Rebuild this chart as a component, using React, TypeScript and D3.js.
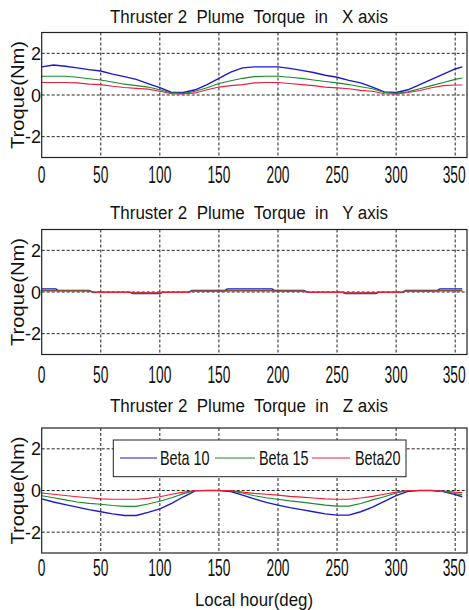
import React from "react";
import * as d3 from "d3";

// ---------- data ----------
const xTicks = [0, 50, 100, 150, 200, 250, 300, 350];
const yTicks = [-2, 0, 2];
const seriesNames = ["Beta 10", "Beta 15", "Beta20"];

// X axis torque
const xHour = [0,10,20,30,40,50,60,70,80,90,100,110,120,130,140,150,160,170,180,190,200,210,220,230,240,250,260,270,280,290,300,310,320,330,340,350,356];
const xBeta10 = [1.35,1.44,1.38,1.30,1.22,1.15,1.00,0.88,0.75,0.55,0.35,0.12,0.12,0.25,0.50,0.80,1.10,1.30,1.35,1.35,1.35,1.28,1.18,1.08,0.95,0.85,0.70,0.58,0.38,0.15,0.12,0.25,0.50,0.75,1.00,1.25,1.35];
const xBeta15 = [0.90,0.90,0.90,0.85,0.78,0.72,0.62,0.52,0.45,0.38,0.25,0.10,0.08,0.18,0.35,0.55,0.68,0.80,0.88,0.90,0.90,0.85,0.80,0.72,0.65,0.58,0.50,0.40,0.30,0.12,0.08,0.15,0.30,0.45,0.60,0.75,0.82];
const xBeta20 = [0.60,0.60,0.60,0.58,0.52,0.50,0.42,0.36,0.32,0.28,0.18,0.06,0.05,0.10,0.25,0.38,0.45,0.50,0.58,0.60,0.60,0.55,0.50,0.45,0.38,0.34,0.30,0.22,0.18,0.06,0.05,0.12,0.22,0.35,0.45,0.48,0.48];

// Y axis torque
const yHour = [0,12,14,40,44,75,77,100,102,124,127,155,157,195,197,222,225,255,257,283,285,305,308,335,337,356];
const yBeta10 = [0.15,0.15,0.07,0.07,-0.02,-0.02,-0.07,-0.07,-0.02,-0.02,0.07,0.07,0.15,0.15,0.07,0.07,-0.02,-0.02,-0.07,-0.07,-0.02,-0.02,0.07,0.07,0.15,0.15];
const yBeta15 = [0.08,0.08,0.07,0.07,-0.02,-0.02,-0.05,-0.05,-0.02,-0.02,0.06,0.06,0.08,0.08,0.06,0.06,-0.02,-0.02,-0.05,-0.05,-0.02,-0.02,0.06,0.06,0.08,0.08];
const yBeta20 = [0.05,0.05,0.05,0.05,-0.02,-0.02,-0.04,-0.04,-0.02,-0.02,0.04,0.04,0.05,0.05,0.04,0.04,-0.02,-0.02,-0.04,-0.04,-0.02,-0.02,0.04,0.04,0.05,0.05];

// Z axis torque
const zHour = xHour;
const zBeta10 = [-0.40,-0.55,-0.68,-0.80,-0.92,-1.02,-1.12,-1.20,-1.20,-1.05,-0.88,-0.62,-0.30,-0.02,0,0,-0.05,-0.22,-0.40,-0.57,-0.70,-0.82,-0.92,-1.02,-1.12,-1.18,-1.18,-1.02,-0.80,-0.52,-0.25,-0.04,0,0,-0.05,-0.20,-0.30];
const zBeta15 = [-0.25,-0.35,-0.45,-0.55,-0.62,-0.66,-0.72,-0.76,-0.76,-0.65,-0.52,-0.35,-0.15,0,0,0,-0.02,-0.12,-0.25,-0.35,-0.42,-0.50,-0.56,-0.63,-0.70,-0.75,-0.75,-0.62,-0.45,-0.30,-0.12,0,0,0,-0.05,-0.15,-0.20];
const zBeta20 = [-0.12,-0.18,-0.24,-0.30,-0.35,-0.40,-0.42,-0.42,-0.42,-0.38,-0.30,-0.18,-0.08,0,0,0,0,-0.08,-0.14,-0.18,-0.22,-0.28,-0.32,-0.36,-0.40,-0.42,-0.42,-0.36,-0.28,-0.18,-0.08,0,0,0,-0.03,-0.08,-0.10];

const colors = ["#1a1acc", "#1a8a2a", "#e8203a"];
const FONT = "'Liberation Sans', Arial, sans-serif";

type Series = { x: number[]; y: number[] };

function Panel({ top, title, titleY, tickY, series }: { top: number; title: string; titleY: number; tickY: number; series: Series[] }) {
  const left = 41.7, right = 467, h = 125;
  const xs = d3.scaleLinear().domain([0, 360]).range([left, right]);
  const ys = d3.scaleLinear().domain([-3, 3]).range([top + h, top]);
  const line = d3.line<[number, number]>().x((d) => xs(d[0])).y((d) => ys(d[1]));
  return (
    <g>
      <text x={249} y={titleY} fontSize={18} textAnchor="middle" textLength={278} lengthAdjust="spacingAndGlyphs" fontFamily={FONT} fill="#111" style={{ whiteSpace: "pre" }}>{title}</text>
      <rect x={left} y={top} width={right - left} height={h} fill="#fff" />
      {xTicks.filter((t) => t > 0).map((t) => (
        <line key={"gx" + t} x1={xs(t)} x2={xs(t)} y1={top} y2={top + h} stroke="#222" strokeWidth={1} strokeDasharray="3,2" />
      ))}
      {yTicks.map((t) => (
        <line key={"gy" + t} x1={left} x2={right} y1={ys(t)} y2={ys(t)} stroke="#222" strokeWidth={1} strokeDasharray="3,2" />
      ))}
      {series.map((s, i) => (
        <path key={i} d={line(s.x.map((v, j) => [v, s.y[j]] as [number, number])) || ""} fill="none" stroke={colors[i]} strokeWidth={i === 0 ? 1.4 : 1.1} />
      ))}
      <rect x={left} y={top} width={right - left} height={h} fill="none" stroke="#222" strokeWidth={1.2} />
      {xTicks.map((t) => (
        <text key={"tx" + t} transform={`translate(${t === 350 ? xs(t) - 1 : xs(t)},${tickY}) scale(0.6,1)`} fontSize={23} textAnchor="middle" fontFamily={FONT} fill="#111">{t}</text>
      ))}
      {yTicks.map((t) => (
        <text key={"ty" + t} x={41} y={ys(t) + 6.5} fontSize={18} textAnchor="end" fontFamily={FONT} fill="#111">{t}</text>
      ))}
      <text transform={`translate(24,${top + h / 2}) rotate(-90)`} fontSize={19} textAnchor="middle" textLength={108} lengthAdjust="spacingAndGlyphs" fontFamily={FONT} fill="#111">Troque(Nm)</text>
    </g>
  );
}

export default function App() {
  const legendItems = [
    { x1: 120, x2: 157, tx: 160 },
    { x1: 215, x2: 255, tx: 259 },
    { x1: 312, x2: 350, tx: 355 },
  ];
  return (
    <svg width={469} height={610} style={{ position: "absolute", left: 0, top: 0, background: "#fff" }}>
      <rect width={469} height={610} fill="#fff" />
      <Panel top={32.5} title="Thruster 2  Plume  Torque  in   X axis" titleY={22.5} tickY={183}
        series={[{ x: xHour, y: xBeta10 }, { x: xHour, y: xBeta15 }, { x: xHour, y: xBeta20 }]} />
      <Panel top={229.5} title="Thruster 2  Plume  Torque  in   Y axis" titleY={218.5} tickY={383}
        series={[{ x: yHour, y: yBeta10 }, { x: yHour, y: yBeta15 }, { x: yHour, y: yBeta20 }]} />
      <Panel top={428} title="Thruster 2  Plume  Torque  in   Z axis" titleY={412} tickY={576}
        series={[{ x: zHour, y: zBeta10 }, { x: zHour, y: zBeta15 }, { x: zHour, y: zBeta20 }]} />
      <g>
        <rect x={113.3} y={440} width={292.7} height={36.7} fill="#fff" stroke="#222" strokeWidth={1} />
        {legendItems.map((it, i) => (
          <g key={i}>
            <line x1={it.x1} x2={it.x2} y1={458} y2={458} stroke={colors[i]} strokeWidth={1} />
            <text transform={`translate(${it.tx},465) scale(0.72,1)`} fontSize={20} fontFamily={FONT} fill="#111">{seriesNames[i]}</text>
          </g>
        ))}
      </g>
      <text x={254} y={606} fontSize={19} textAnchor="middle" textLength={118} lengthAdjust="spacingAndGlyphs" fontFamily={FONT} fill="#111">Local hour(deg)</text>
    </svg>
  );
}
